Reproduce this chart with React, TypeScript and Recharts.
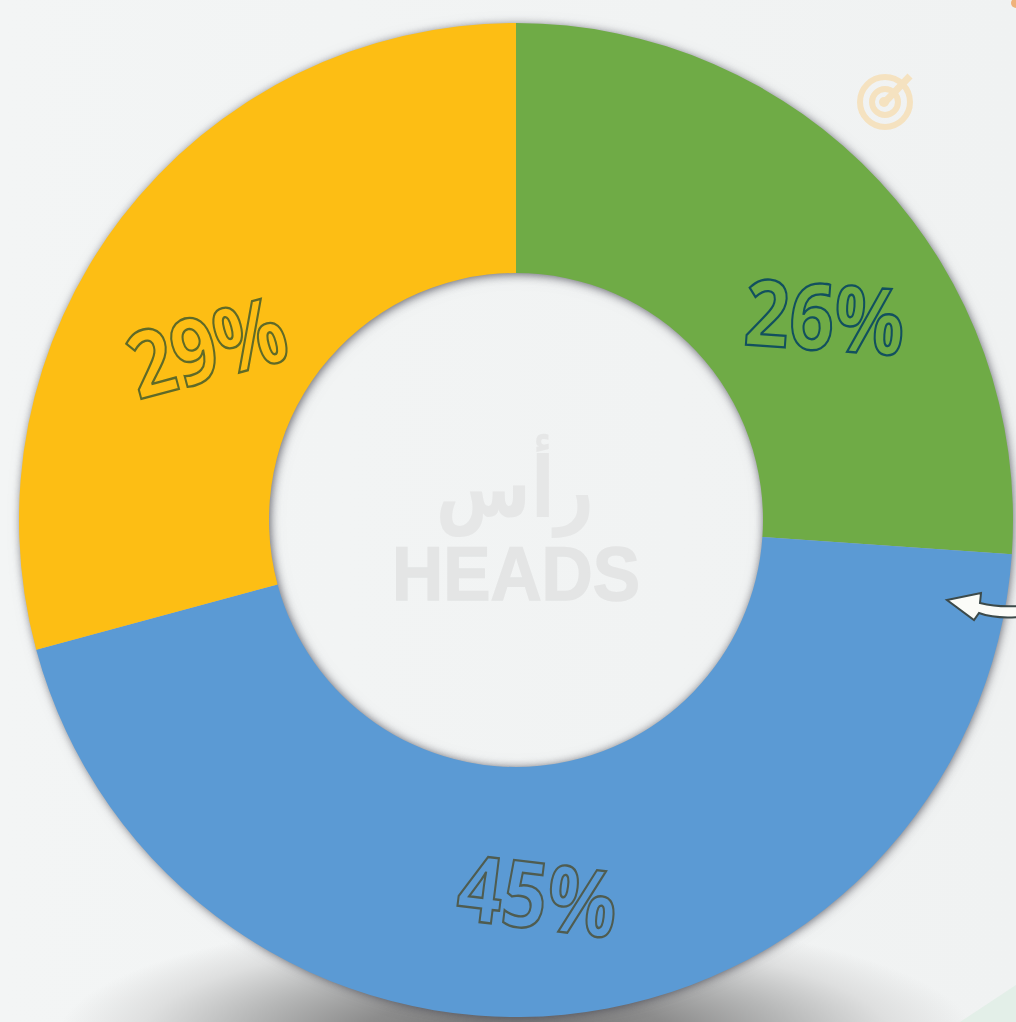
import { PieChart, Pie, Cell } from 'recharts';

const categories = ['Green', 'Blue', 'Yellow'];
const shares = [26.1, 44.7, 29.2];
const shareLabels = ['26%', '45%', '29%'];

const sliceColors = ['#6fab46', '#5b9ad4', '#fdbe14'];
const labelStrokes = ['#12505e', '#4f5c50', '#5f6a28'];
// label placement: distance from centre, angle clockwise from top, text tilt
const labelRadius = [371, 374, 356];
const labelAngle = [56.4, 176.6, 299.5];
const labelTilt = [4, 7, -15];

const chartData = categories.map((name, i) => ({ name, value: shares[i] }));
const wholeRing = [{ name: 'All', value: shares.reduce((a, b) => a + b, 0) }];

const CX = 516;
const CY = 520;

const renderLabel = (props: any) => {
  const i = props.index;
  const rad = (labelAngle[i] * Math.PI) / 180;
  const x = props.cx + labelRadius[i] * Math.sin(rad);
  const y = props.cy - labelRadius[i] * Math.cos(rad);
  return (
    <text
      key={i}
      transform={`translate(${x} ${y}) rotate(${labelTilt[i]}) scale(0.85 1)`}
      textAnchor="middle"
      dominantBaseline="central"
      fontFamily="'Open Sans', sans-serif"
      fontWeight={700}
      fontSize={92}
      fill="none"
      stroke={labelStrokes[i]}
      strokeWidth={2.4}
    >
      {shareLabels[i]}
    </text>
  );
};

export default function App() {
  return (
    <div
      style={{
        position: 'absolute',
        left: 0,
        top: 0,
        width: 1016,
        height: 1022,
        overflow: 'hidden',
        background:
          'radial-gradient(ellipse 460px 125px at 516px 1040px, #6f6f6f 0%, #8c8c8c 35%, #b6b7b7 60%, #dedfdf 82%, rgba(241,243,243,0) 100%), linear-gradient(90deg, #f3f5f5, #f0f2f2)',
      }}
    >
      <style>{`.ring-shadow { filter: drop-shadow(1px 1px 5px rgba(70,70,80,0.55)); }`}</style>
      <PieChart width={1016} height={1022} margin={{ top: 0, right: 0, bottom: 0, left: 0 }}>
        {/* one grey ring under the slices, only there to carry the soft edge */}
        <Pie
          className="ring-shadow"
          data={wholeRing}
          dataKey="value"
          cx={CX}
          cy={CY}
          innerRadius={248}
          outerRadius={495}
          startAngle={90}
          endAngle={-270}
          stroke="none"
          fill="#b5b5b5"
          isAnimationActive={false}
        />
        <Pie
          data={chartData}
          dataKey="value"
          nameKey="name"
          cx={CX}
          cy={CY}
          innerRadius={247}
          outerRadius={497}
          startAngle={90}
          endAngle={-270}
          stroke="none"
          label={renderLabel}
          labelLine={false}
          isAnimationActive={false}
        >
          {chartData.map((d, i) => (
            <Cell key={d.name} fill={sliceColors[i]} />
          ))}
        </Pie>
      </PieChart>

      {/* decoration sits above the chart */}
      <svg width={1016} height={1022} style={{ position: 'absolute', left: 0, top: 0 }}>
        <text
          transform="translate(515 517) scale(0.82 1)"
          textAnchor="middle"
          fontFamily="'DejaVu Sans', sans-serif"
          fontWeight={700}
          fontSize={84}
          fill="#e6e7e7"
        >
          رأس
        </text>
        <text x={516} y={600} textAnchor="middle" fontFamily="'Liberation Sans', sans-serif" fontWeight={700} fontSize={76} textLength={248} lengthAdjust="spacingAndGlyphs" fill="#e4e5e5" stroke="#e4e5e5" strokeWidth={1.5}>
          HEADS
        </text>

        {/* target icon */}
        <g style={{ filter: 'blur(0.7px)' }}>
          <g fill="none" stroke="#f5e2c0" strokeWidth={6}>
            <circle cx={885} cy={102} r={25} />
            <circle cx={885} cy={102} r={13} />
            <path d="M885 102 L910 76" strokeWidth={7} />
          </g>
          <circle cx={884} cy={102} r={5} fill="#f5e2c0" />
        </g>

        {/* white arrow on the right edge */}
        <path
          d="M947 600 L981 593 L980 603 C992 606 1004 607 1018 606 L1018 617 C1004 618 990 617 979 613 L974 620 Z"
          fill="#fbfcf8"
          stroke="#3c4a4a"
          strokeWidth={2}
        />

        {/* corner scraps */}
        <path d="M1016 985 L1016 1022 L960 1022 Z" fill="#e3efe8" />
        <circle cx={1016} cy={3} r={5} fill="#efb27a" />
      </svg>
    </div>
  );
}
